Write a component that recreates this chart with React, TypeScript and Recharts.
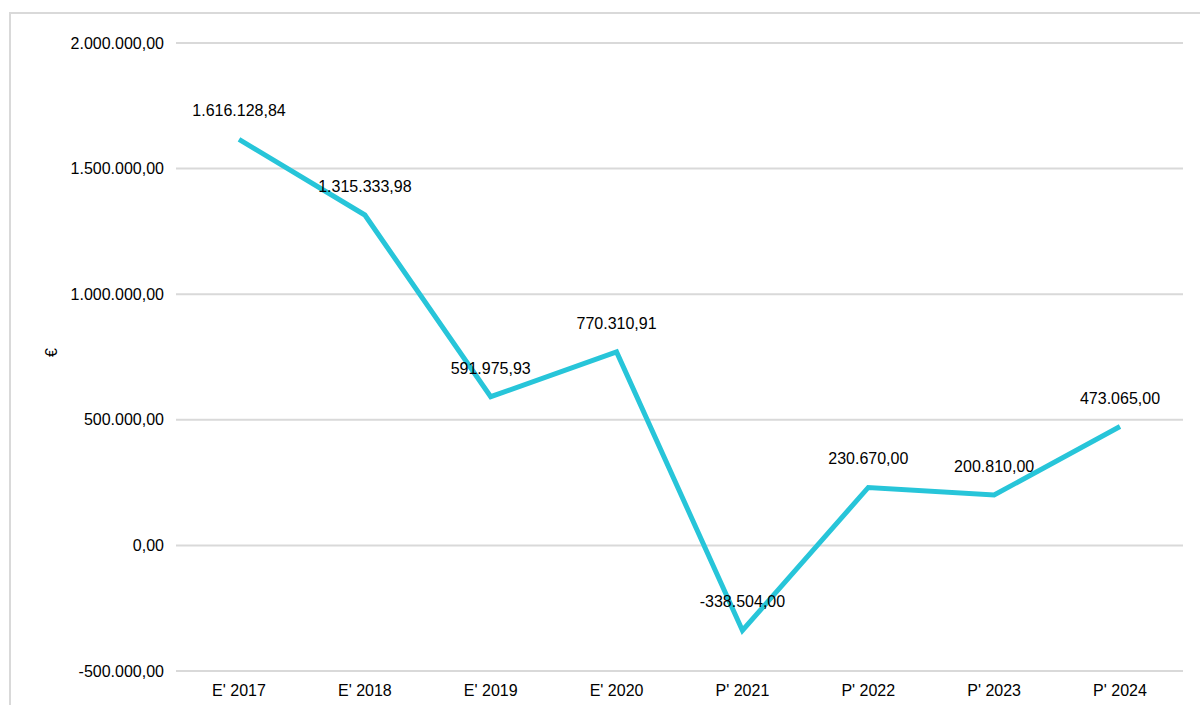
import React from 'react';
import { LineChart, Line, XAxis, YAxis, CartesianGrid, LabelList } from 'recharts';

const categories = ["E' 2017", "E' 2018", "E' 2019", "E' 2020", "P' 2021", "P' 2022", "P' 2023", "P' 2024"];
const values = [1616128.84, 1315333.98, 591975.93, 770310.91, -338504.0, 230670.0, 200810.0, 473065.0];
const yTicks = [-500000, 0, 500000, 1000000, 1500000, 2000000];

const data = categories.map((name, i) => ({ name, value: values[i] }));

const fmt = (v: number) =>
  v.toLocaleString('de-DE', { minimumFractionDigits: 2, maximumFractionDigits: 2 });

const FONT = '"Liberation Sans", Arial, sans-serif';

export default function App() {
  return (
    <div style={{ position: 'absolute', left: 0, top: 0, width: 1200, height: 705, background: '#fff', overflow: 'hidden', fontFamily: FONT }}>
      <div style={{ position: 'absolute', left: 9, top: 12, width: 1220, height: 720, border: '2px solid #d9d9d9', boxSizing: 'border-box' }} />
      <div style={{ position: 'absolute', left: 0, top: 0 }}>
        <LineChart width={1200} height={705} data={data} margin={{ top: 43, right: 17, bottom: 4, left: 51 }}>
          <CartesianGrid vertical={false} stroke="#d9d9d9" strokeWidth={2} />
          <XAxis
            dataKey="name"
            axisLine={false}
            tickLine={false}
            height={30}
            tickMargin={8}
            padding={{ left: 63, right: 63 }}
            tick={{ fill: '#000', fontSize: 16, fontFamily: FONT }}
          />
          <YAxis
            width={125}
            domain={[-500000, 2000000]}
            ticks={yTicks}
            axisLine={false}
            tickLine={false}
            tickMargin={6}
            tickFormatter={fmt}
            tick={{ fill: '#000', fontSize: 16, fontFamily: FONT }}
            label={{ value: '€', angle: -90, position: 'insideLeft', offset: 0, fill: '#000', fontSize: 16, fontFamily: FONT }}
          />
          <Line
            type="linear"
            dataKey="value"
            stroke="#27c5d9"
            strokeWidth={5}
            dot={false}
            isAnimationActive={false}
          >
            <LabelList dataKey="value" position="top" offset={23} formatter={(v: any) => fmt(Number(v))} fill="#000" fontSize={16} fontFamily={FONT} />
          </Line>
        </LineChart>
      </div>
    </div>
  );
}
